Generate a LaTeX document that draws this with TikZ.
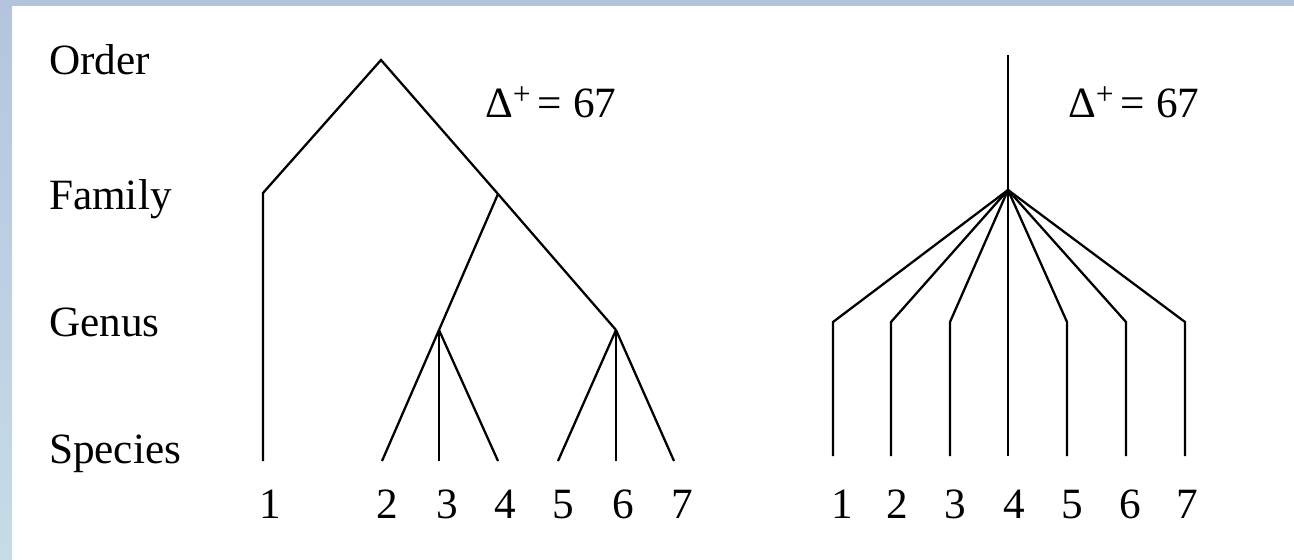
\documentclass[tikz,border=0pt]{standalone}
\usepackage{fontspec}
\setmainfont{Liberation Serif}
\usetikzlibrary{positioning}
\definecolor{framebg}{HTML}{B4C4DE}
\definecolor{framelow}{HTML}{C6DCE8}
\newcommand{\dplus}{Δ\raisebox{7.5pt}{\fontsize{18}{18}\selectfont +}\,= 67}

\begin{document}
\begin{tikzpicture}[x=0.02cm, y=-0.02cm, font=\fontsize{24.6}{28}\selectfont, line width=1.3pt]
\tikzstyle{lvl}=[anchor=base west, inner sep=0pt]
\tikzstyle{num}=[anchor=base, inner sep=0pt]
\tikzstyle{edge}=[draw, line join=miter, line cap=butt]
\useasboundingbox (0,0) rectangle (1294,560);
% frame
\fill[framebg] (0,0) rectangle (1294,6);
\shade[top color=framebg, bottom color=framelow] (0,0) rectangle (12,560);
% level names
\node[lvl] (order) at (48,75) {Order};
\node[lvl] (family) at (48,210) {Family};
\node[lvl] (genus) at (48,337) {Genus};
\node[lvl] (species) at (48,463) {Species};
% left tree
\coordinate (root) at (381,60);
\coordinate (famA) at (263,193);
\coordinate (famB) at (498,194);
\coordinate (genA) at (439,330);
\coordinate (genB) at (616,330);
\coordinate (sp1) at (263,461);
\coordinate (sp2) at (382,461);
\coordinate (sp3) at (439,461);
\coordinate (sp4) at (498,461);
\coordinate (sp5) at (558,461);
\coordinate (sp6) at (616,461);
\coordinate (sp7) at (674,461);
\draw[edge] (sp1) -- (famA) -- (root) -- (famB);
\draw[edge] (famB) -- (genA);
\draw[edge] (famB) -- (genB);
\draw[edge] (genA) -- (sp2);
\draw[edge] (genA) -- (sp3);
\draw[edge] (genA) -- (sp4);
\draw[edge] (genB) -- (sp5);
\draw[edge] (genB) -- (sp6);
\draw[edge] (genB) -- (sp7);
\node[num] (n1) at (270,518) {1};
\node[num] (n2) at (387,518) {2};
\node[num] (n3) at (447,518) {3};
\node[num] (n4) at (505,518) {4};
\node[num] (n5) at (563,518) {5};
\node[num] (n6) at (623,518) {6};
\node[num] (n7) at (682,518) {7};
\node[lvl] (deltaL) at (484,118) {\dplus};
% right tree
\coordinate (rtop) at (1008,55);
\coordinate (rhub) at (1008,190);
\coordinate (rb1) at (833,322);
\coordinate (rb2) at (891,322);
\coordinate (rb3) at (950,322);
\coordinate (rb5) at (1067,322);
\coordinate (rb6) at (1126,322);
\coordinate (rb7) at (1185,322);
\coordinate (rs1) at (833,456);
\coordinate (rs2) at (891,456);
\coordinate (rs3) at (950,456);
\coordinate (rs4) at (1008,456);
\coordinate (rs5) at (1067,456);
\coordinate (rs6) at (1126,456);
\coordinate (rs7) at (1185,456);
\draw[edge] (rtop) -- (rs4);
\draw[edge] (rhub) -- (rb1) -- (rs1);
\draw[edge] (rhub) -- (rb2) -- (rs2);
\draw[edge] (rhub) -- (rb3) -- (rs3);
\draw[edge] (rhub) -- (rb5) -- (rs5);
\draw[edge] (rhub) -- (rb6) -- (rs6);
\draw[edge] (rhub) -- (rb7) -- (rs7);
\node[num] (m1) at (842,518) {1};
\node[num] (m2) at (897,518) {2};
\node[num] (m3) at (955,518) {3};
\node[num] (m4) at (1014,518) {4};
\node[num] (m5) at (1072,518) {5};
\node[num] (m6) at (1130,518) {6};
\node[num] (m7) at (1187,518) {7};
\node[lvl] (deltaR) at (1067,118) {\dplus};
\end{tikzpicture}
\end{document}
